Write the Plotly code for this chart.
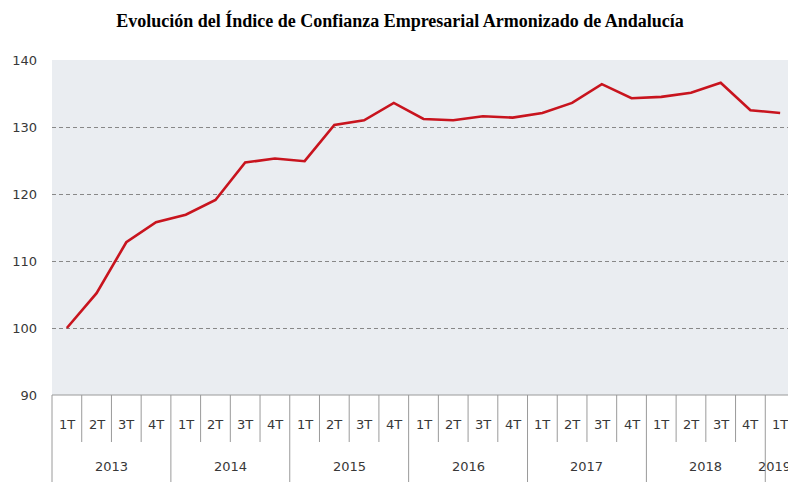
import plotly.graph_objects as go

years = ["2013", "2014", "2015", "2016", "2017", "2018", "2019"]
quarters_per_year = [4, 4, 4, 4, 4, 4, 1]
quarter_names = ["1T", "2T", "3T", "4T"]
values = [100.0, 105.2, 112.8, 115.8,
          116.9, 119.1, 124.7, 125.3,
          124.9, 130.3, 131.0, 133.6,
          131.2, 131.0, 131.6, 131.4,
          132.1, 133.6, 136.4, 134.3,
          134.5, 135.1, 136.6, 132.5,
          132.1]
y_ticks = [90, 100, 110, 120, 130, 140]
title = "Evolución del Índice de Confianza Empresarial Armonizado de Andalucía"

quarter_labels = []
for yr, n in zip(years, quarters_per_year):
    for q in range(n):
        quarter_labels.append(quarter_names[q])
n_pts = len(values)
xs = list(range(n_pts))

# page body has an 8px margin; figure sized so it ends at the window edge
W, H = 788, 474
m_l, m_r, m_t, m_b = 44, 1, 52, 87
plot_h = H - m_t - m_b

line_col = "#9A9A9A"
text_col = "#383838"
font_fam = "DejaVu Sans"

fig = go.Figure()
fig.add_trace(go.Scatter(x=xs, y=values, mode="lines",
                         line=dict(color="#C8141E", width=2.6),
                         hoverinfo="skip", showlegend=False))

shapes = []
shapes.append(dict(type="line", xref="paper", yref="paper", x0=0, x1=1, y0=0, y1=0,
                   line=dict(color=line_col, width=1)))
q_bottom = -47 / plot_h
y_bottom = -m_b / plot_h
idx = 0
boundaries_year = {0}
for n in quarters_per_year:
    idx += n
    boundaries_year.add(idx)
for b in range(n_pts + 1):
    xp = b / n_pts
    y0 = y_bottom if b in boundaries_year else q_bottom
    shapes.append(dict(type="line", xref="paper", yref="paper", x0=xp, x1=xp, y0=0, y1=y0,
                       line=dict(color=line_col, width=1)))

annotations = []
for i, q in enumerate(quarter_labels):
    annotations.append(dict(x=i, y=-29 / plot_h, xref="x", yref="paper",
                            text=q, showarrow=False, xanchor="center", yanchor="middle",
                            font=dict(family=font_fam, size=13, color=text_col)))
start = 0
for yr, n in zip(years, quarters_per_year):
    center = start + (n - 1) / 2
    last = (start + n == n_pts)
    annotations.append(dict(x=(start + n - 0.5) if last else center, y=-71 / plot_h,
                            xref="x", yref="paper",
                            text=yr, showarrow=False,
                            xanchor="right" if last else "center", yanchor="middle",
                            xshift=-3 if last else 0,
                            borderpad=0,
                            font=dict(family=font_fam, size=13, color=text_col)))
    start += n

fig.update_layout(
    width=W, height=H,
    margin=dict(l=m_l, r=m_r, t=m_t, b=m_b, autoexpand=False),
    paper_bgcolor="white",
    plot_bgcolor="#EAEDF1",
    title=dict(text="<b>" + title + "</b>", x=392 / W, xanchor="center", y=1 - 13 / H, yanchor="middle",
               font=dict(family="Liberation Serif", size=18, color="black")),
    xaxis=dict(range=[-0.5, n_pts - 0.5], showticklabels=False, showgrid=False,
               zeroline=False, showline=False, ticks=""),
    yaxis=dict(range=[90, 140], tickvals=y_ticks, showgrid=True, gridcolor="#888888",
               griddash="4px,3px", gridwidth=1, zeroline=False, showline=False, ticks="",
               ticklabelstandoff=14,
               tickfont=dict(family=font_fam, size=13, color=text_col)),
    shapes=shapes,
    annotations=annotations,
)
fig.write_html("out.html")
